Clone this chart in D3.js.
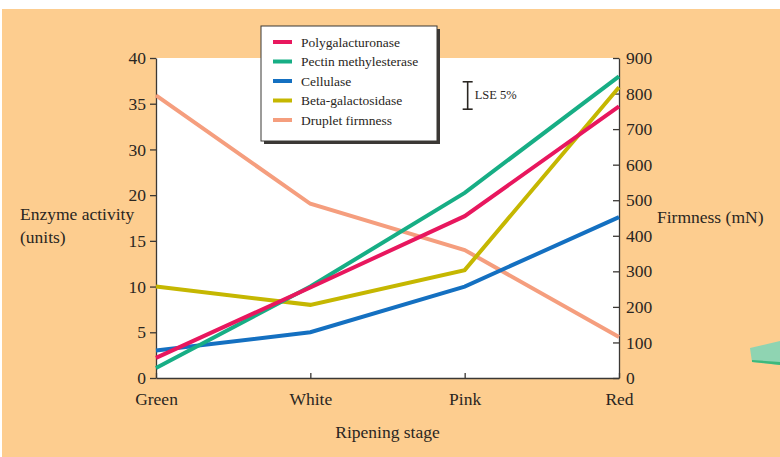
<!DOCTYPE html>
<html><head><meta charset="utf-8">
<script src="https://cdn.jsdelivr.net/npm/d3@7"></script>
<style>
html,body{margin:0;padding:0;background:#fff;}
svg text{font-family:"Liberation Serif","DejaVu Serif",serif;fill:#2a2622;}
</style></head>
<body><svg id="c" width="780" height="457"></svg>
<script>
// ---- data ----
const stages = ["Green", "White", "Pink", "Red"];
const seriesNames = ["Polygalacturonase", "Pectin methylesterase", "Cellulase", "Beta-galactosidase", "Druplet firmness"];
const polygalacturonase = [2.2, 9.9, 17.7, 34.7];
const pectinMethylesterase = [1.1, 10.0, 20.5, 38.0];
const cellulase = [3.0, 5.0, 10.0, 17.6];
const betaGalactosidase = [10.0, 8.0, 11.8, 36.8];
const drupletFirmness = [795, 490, 360, 115];
const leftTicks = [0, 5, 10, 15, 20, 30, 35, 40];
const rightTicks = [0, 100, 200, 300, 400, 500, 600, 700, 800, 900];
const lseRange = [34.4, 37.4];

const colors = ["#E8175E", "#17AE85", "#1470C1", "#C5B701", "#F59E7E"];

const svg = d3.select("#c");
const W = 780, H = 457;
const m = {l: 156, r: 619, t: 58, b: 378};

// background
svg.append("rect").attr("x", 0).attr("y", 0).attr("width", W).attr("height", H).attr("fill", "#fff");
svg.append("rect").attr("x", 2).attr("y", 9).attr("width", W - 2).attr("height", H - 9).attr("fill", "#FDCD8F");
// decorative tab at right edge
svg.append("polygon").attr("points", "750,348 780,341 780,365 752,362").attr("fill", "#8FD4B2");
svg.append("polygon").attr("points", "752,360 780,362 780,365 752,362").attr("fill", "#3DB97C");

// plot area
svg.append("rect").attr("x", m.l).attr("y", m.t).attr("width", m.r - m.l).attr("height", m.b - m.t).attr("fill", "#fff");

const x = d3.scalePoint().domain(stages).range([m.l, m.r]);
const step = (m.b - m.t) / (leftTicks.length - 1);
const yL = d3.scaleLinear().domain(leftTicks).range(leftTicks.map((d, i) => m.b - i * step));
const yR = d3.scaleLinear().domain([0, 900]).range([m.b, m.t]);

// axes
const axL = svg.append("g").attr("transform", `translate(${m.l},0)`)
  .call(d3.axisLeft(yL).tickValues(leftTicks).tickSizeInner(6).tickSizeOuter(0).tickPadding(4).tickFormat(d => d));
const axR = svg.append("g").attr("transform", `translate(${m.r},0)`)
  .call(d3.axisRight(yR).tickValues(rightTicks).tickSizeInner(-6).tickSizeOuter(0).tickPadding(7).tickFormat(d => d));
const axB = svg.append("g").attr("transform", `translate(0,${m.b})`)
  .call(d3.axisBottom(x).tickSizeInner(-5).tickSizeOuter(0).tickPadding(15));
[axL, axR, axB].forEach(a => {
  a.selectAll("path,line").attr("stroke", "#3b3835").attr("stroke-width", 1.3);
  a.selectAll("text").attr("font-size", 17.5).attr("fill", "#2a2622")
    .attr("font-family", '"Liberation Serif","DejaVu Serif",serif');
});
axB.selectAll("text").attr("dy", "0.71em");

// lines
const line = (yScale) => d3.line().x((d, i) => x(stages[i])).y(d => yScale(d));
const drawOrder = [
  [drupletFirmness, 4, yR],
  [cellulase, 2, yL],
  [betaGalactosidase, 3, yL],
  [pectinMethylesterase, 1, yL],
  [polygalacturonase, 0, yL]
];
drawOrder.forEach(([vals, ci, sc]) => {
  svg.append("path").datum(vals).attr("d", line(sc)).attr("fill", "none")
    .attr("stroke", colors[ci]).attr("stroke-width", 4).attr("stroke-linejoin", "miter");
});

// LSE bar
const lx = x("Pink") + 3;
const lse = svg.append("g").attr("stroke", "#2a2622").attr("stroke-width", 1.6);
lse.append("line").attr("x1", lx).attr("x2", lx).attr("y1", yL(lseRange[0])).attr("y2", yL(lseRange[1]));
lse.append("line").attr("x1", lx - 5).attr("x2", lx + 5).attr("y1", yL(lseRange[0])).attr("y2", yL(lseRange[0]));
lse.append("line").attr("x1", lx - 5).attr("x2", lx + 5).attr("y1", yL(lseRange[1])).attr("y2", yL(lseRange[1]));
svg.append("text").attr("x", lx + 7).attr("y", (yL(lseRange[0]) + yL(lseRange[1])) / 2 + 4)
  .attr("font-size", 12.5).text("LSE 5%");

// axis titles
svg.append("text").attr("x", 20).attr("y", 220).attr("font-size", 17.5).text("Enzyme activity");
svg.append("text").attr("x", 20).attr("y", 243).attr("font-size", 17.5).text("(units)");
svg.append("text").attr("x", 657).attr("y", 223).attr("font-size", 17.5).text("Firmness (mN)");
svg.append("text").attr("x", (m.l + m.r) / 2).attr("y", 438).attr("text-anchor", "middle")
  .attr("font-size", 17.5).text("Ripening stage");

// legend
const lg = svg.append("g").attr("transform", "translate(261,26)");
lg.append("rect").attr("x", 3).attr("y", 3).attr("width", 176).attr("height", 115).attr("fill", "#3b3835");
lg.append("rect").attr("x", 0).attr("y", 0).attr("width", 176).attr("height", 115)
  .attr("fill", "#fff").attr("stroke", "#3b3835").attr("stroke-width", 1);
seriesNames.forEach((n, i) => {
  const yy = 16 + i * 19.5;
  lg.append("line").attr("x1", 12).attr("x2", 31).attr("y1", yy).attr("y2", yy)
    .attr("stroke", colors[i]).attr("stroke-width", 4);
  lg.append("text").attr("x", 40).attr("y", yy + 4.5).attr("font-size", 13.5).text(n);
});
</script>
</body></html>
